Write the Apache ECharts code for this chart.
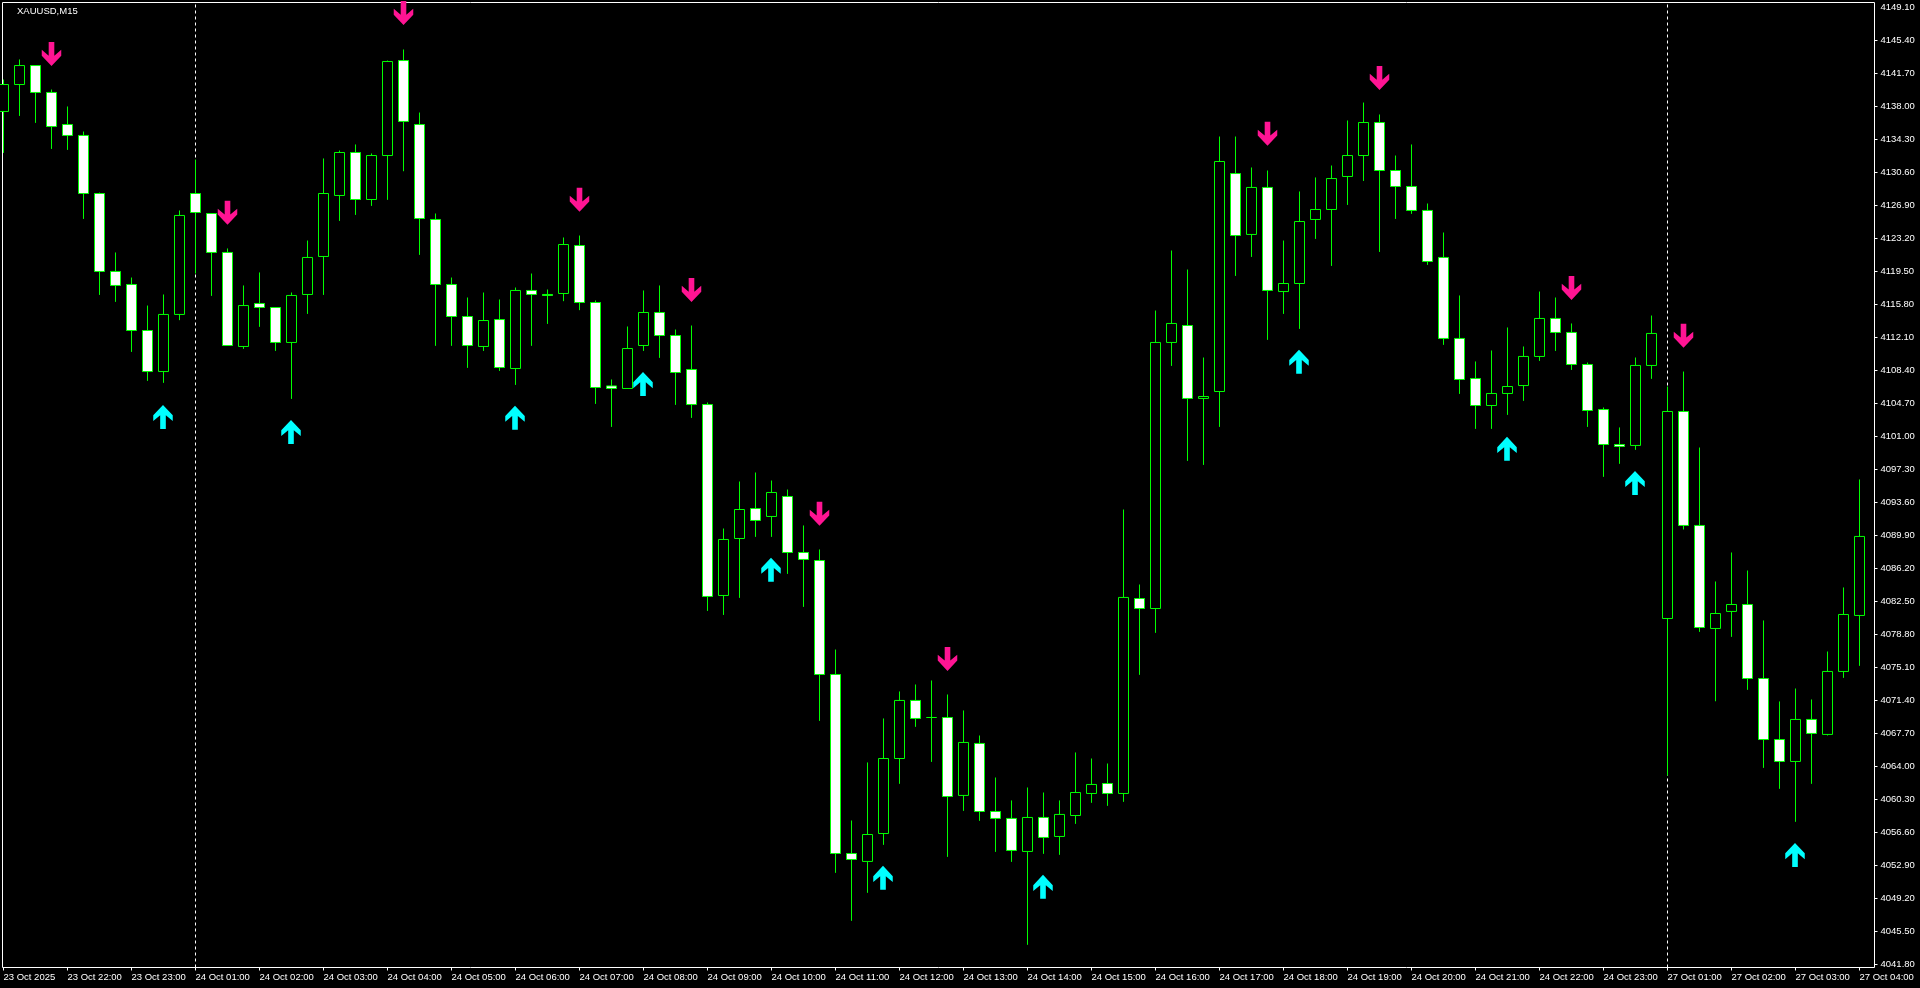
<html>
<head>
  <meta charset="utf-8">
  <title>XAUUSD,M15</title>
  <script src="https://cdn.jsdelivr.net/npm/echarts@6/dist/echarts.min.js"></script>
</head>

<body style="margin:0;background:#000;">
<div id="main" style="width:1920px;height:988px;"></div>
<script>
  var symbolName = 'XAUUSD,M15';

  // M15 bars
  var opens = [4137.41,4140.43,4142.56,4139.54,4135.95,4134.72,4128.21,4119.47,4118.01,4112.85,4108.25,4114.65,4128.21,4125.97,4121.60,4111.06,4115.88,4115.43,4111.51,4116.89,
    4121.15,4127.99,4132.81,4127.54,4132.47,4143.12,4135.95,4125.30,4118.01,4114.42,4111.06,4114.08,4108.59,4117.34,4116.89,4117.00,4122.38,4115.99,4106.64,4106.35,
    4111.17,4114.87,4112.29,4108.48,4104.55,4083.14,4089.53,4092.89,4092.00,4094.24,4087.96,4087.06,4074.28,4054.21,4053.32,4056.45,4064.86,4071.37,4069.46,4069.46,
    4060.72,4066.55,4058.92,4058.14,4054.44,4058.25,4056.12,4058.47,4060.94,4062.06,4060.94,4082.80,4081.68,4111.51,4113.41,4105.23,4106.01,4130.45,4123.62,4128.89,
    4117.22,4118.12,4125.30,4126.42,4130.12,4132.47,4136.17,4130.79,4129.00,4126.31,4121.04,4111.96,4107.47,4104.44,4105.79,4106.68,4109.94,4114.20,4112.63,4109.04,
    4103.99,4100.07,4099.96,4108.93,4080.56,4103.77,4090.99,4079.44,4081.35,4082.13,4073.83,4066.99,4064.53,4069.24,4067.56,4074.62,4080.90];
  var closes = [4140.43,4142.56,4139.54,4135.72,4134.72,4128.21,4119.47,4117.90,4112.85,4108.25,4114.65,4125.75,4126.08,4121.60,4111.17,4115.65,4115.43,4111.51,4116.78,4121.04,
    4128.21,4132.81,4127.54,4132.47,4143.01,4136.29,4125.41,4118.01,4114.42,4111.17,4113.97,4108.70,4117.34,4116.89,4116.78,4122.49,4115.99,4106.46,4106.35,4110.83,
    4114.87,4112.29,4108.14,4104.55,4083.03,4089.42,4092.78,4091.55,4094.69,4087.96,4087.18,4074.28,4054.21,4053.54,4056.34,4064.86,4071.37,4069.35,4069.46,4060.60,
    4066.66,4058.92,4058.14,4054.55,4058.25,4056.01,4058.59,4061.05,4061.95,4060.94,4082.92,4081.68,4111.51,4113.64,4105.23,4105.45,4131.80,4123.50,4128.89,4117.34,
    4118.12,4125.07,4126.42,4129.89,4132.47,4136.17,4130.79,4129.00,4126.31,4120.59,4111.96,4107.36,4104.44,4105.79,4106.57,4109.94,4114.20,4112.63,4109.04,4103.88,
    4100.07,4099.85,4108.93,4112.52,4103.77,4090.99,4079.55,4081.12,4082.13,4073.83,4066.99,4064.53,4069.24,4067.67,4074.62,4081.01,4089.76];
  var lows = [4132.76,4136.91,4136.13,4133.21,4133.10,4125.36,4116.84,4116.06,4110.45,4107.20,4106.98,4114.01,4119.24,4116.73,4111.17,4110.79,4113.26,4110.56,4105.18,4114.71,
    4116.84,4125.14,4125.81,4126.82,4127.50,4130.71,4121.33,4111.13,4111.13,4108.66,4110.56,4108.32,4106.75,4111.13,4113.59,4116.14,4115.13,4104.62,4102.04,4106.35,
    4110.56,4109.78,4104.51,4103.05,4081.41,4080.96,4082.87,4089.71,4089.71,4085.56,4081.86,4069.08,4052.04,4046.66,4049.80,4055.18,4062.02,4068.41,4064.48,4053.83,
    4058.99,4057.87,4054.39,4053.27,4043.97,4054.17,4054.06,4057.53,4059.89,4059.55,4060.00,4074.24,4078.95,4108.88,4098.23,4097.78,4102.04,4118.97,4121.10,4111.80,
    4114.71,4113.03,4123.12,4120.09,4126.93,4129.62,4121.66,4125.36,4125.93,4120.21,4111.24,4105.74,4101.82,4101.82,4103.39,4104.96,4109.44,4110.56,4108.43,4102.04,
    4096.44,4097.90,4099.47,4107.43,4062.95,4090.54,4079.06,4071.28,4078.50,4072.56,4063.81,4061.46,4057.76,4062.02,4067.44,4073.90,4075.25];
  var highs = [4140.99,4143.24,4142.56,4139.87,4137.97,4135.16,4128.32,4121.60,4118.79,4115.65,4116.89,4126.31,4132.02,4125.97,4122.05,4117.90,4119.36,4115.43,4117.11,4122.94,
    4132.14,4133.03,4133.71,4132.70,4143.12,4144.36,4137.29,4125.97,4118.79,4116.55,4117.11,4116.33,4117.67,4119.24,4117.45,4123.28,4123.50,4116.22,4107.36,4113.30,
    4117.34,4117.90,4112.96,4113.41,4104.78,4090.65,4095.92,4096.93,4096.03,4095.02,4090.99,4088.30,4077.08,4057.91,4064.42,4069.35,4072.38,4073.16,4073.61,4072.04,
    4070.25,4067.44,4062.73,4060.16,4061.61,4061.05,4060.16,4065.54,4064.86,4064.30,4092.78,4084.37,4115.09,4121.82,4119.69,4109.82,4134.60,4134.60,4131.13,4130.79,
    4122.94,4128.44,4130.01,4131.35,4136.40,4138.41,4137.07,4132.47,4133.71,4127.09,4123.84,4116.78,4109.38,4110.61,4113.19,4111.06,4117.22,4116.55,4113.64,4109.26,
    4104.22,4101.98,4109.82,4114.53,4106.57,4108.25,4099.73,4084.71,4087.96,4085.94,4080.34,4071.26,4072.71,4071.48,4076.86,4084.04,4096.15];

  // indicator arrows: [bar index, price]
  var sellArrows = [[3,4143.86],[14,4126.04],[25,4148.46],[36,4127.50],[43,4117.40],[51,4092.29],[59,4076.03],[79,4134.90],[86,4141.17],[98,4117.63],[105,4112.25]];
  var buyArrows = [[10,4103.16],[18,4101.48],[32,4103.07],[40,4106.85],[48,4086.03],[55,4051.48],[65,4050.47],[81,4109.35],[94,4099.58],[102,4095.76],[112,4054.04]];

  // period separators (bar index)
  var separators = [12, 104];

  var priceTicks = [4149.10,4145.40,4141.70,4138.00,4134.30,4130.60,4126.90,4123.20,4119.50,4115.80,4112.10,4108.40,4104.70,4101.00,4097.30,
    4093.60,4089.90,4086.20,4082.50,4078.80,4075.10,4071.40,4067.70,4064.00,4060.30,4056.60,4052.90,4049.20,4045.50,4041.80];
  var timeTickBars = [0,4,8,12,16,20,24,28,32,36,40,44,48,52,56,60,64,68,72,76,80,84,88,92,96,100,104,108,112,116];
  var timeLabels = ['23 Oct 2025','23 Oct 22:00','23 Oct 23:00','24 Oct 01:00','24 Oct 02:00','24 Oct 03:00','24 Oct 04:00','24 Oct 05:00','24 Oct 06:00','24 Oct 07:00',
    '24 Oct 08:00','24 Oct 09:00','24 Oct 10:00','24 Oct 11:00','24 Oct 12:00','24 Oct 13:00','24 Oct 14:00','24 Oct 15:00','24 Oct 16:00','24 Oct 17:00',
    '24 Oct 18:00','24 Oct 19:00','24 Oct 20:00','24 Oct 21:00','24 Oct 22:00','24 Oct 23:00','27 Oct 01:00','27 Oct 02:00','27 Oct 03:00','27 Oct 04:00'];

  var upArrow = 'path://M29.5 0L59 30L59 47L38 30L38 70L21 70L21 30L0 47L0 30Z';
  var downArrow = 'path://M21 0L38 0L38 40L59 23L59 40L29.5 70L0 40L0 23L21 40Z';
  var fontName = '"Liberation Sans"';

  var candles = opens.map(function (o, i) {
    return [i, o, closes[i], lows[i], highs[i]];
  });

  var myChart = echarts.init(document.getElementById('main'));

  var option = {
    backgroundColor: '#000',
    animation: false,
    title: {
      text: symbolName,
      left: 12,
      top: 1,
      textStyle: { color: '#fff', fontSize: 9.5, fontWeight: 'normal', fontFamily: fontName }
    },
    grid: {
      show: true,
      left: 2.5,
      top: 2.5,
      width: 1872,
      height: 965,
      backgroundColor: '#000',
      borderColor: '#fff',
      borderWidth: 1
    },
    xAxis: {
      type: 'value',
      min: -0.0625,
      max: 116.9375,
      splitLine: { show: false },
      axisLine: { show: false, onZero: false },
      axisTick: { show: true, length: 3, customValues: timeTickBars, lineStyle: { color: '#fff' } },
      axisLabel: {
        customValues: timeTickBars,
        color: '#fff',
        fontSize: 9.5,
        fontFamily: fontName,
        align: 'left',
        margin: 5,
        formatter: function (value) {
          return timeLabels[timeTickBars.indexOf(value)];
        }
      }
    },
    yAxis: {
      type: 'value',
      position: 'right',
      min: 4041.4275,
      max: 4149.6275,
      splitLine: { show: false },
      axisLine: { show: false, onZero: false },
      axisTick: { show: true, length: 3, customValues: priceTicks.slice(1), lineStyle: { color: '#fff' } },
      axisLabel: {
        customValues: priceTicks,
        color: '#fff',
        fontSize: 9.5,
        fontFamily: fontName,
        margin: 6,
        formatter: function (value) {
          return value.toFixed(2);
        }
      }
    },
    series: [
      {
        type: 'candlestick',
        data: candles,
        encode: { x: 0, y: [1, 2, 3, 4] },
        barWidth: 10,
        z: 3,
        itemStyle: {
          color: '#000',
          color0: '#fff',
          borderColor: '#00ff00',
          borderColor0: '#00ff00',
          borderColorDoji: '#00ff00',
          borderWidth: 1
        },
        markLine: {
          silent: true,
          z: 1,
          symbol: 'none',
          label: { show: false },
          lineStyle: { color: '#fff', width: 1, type: [3, 3] },
          data: separators.map(function (bar) {
            return { xAxis: bar };
          })
        }
      },
      {
        type: 'scatter',
        data: sellArrows,
        symbol: downArrow,
        symbolSize: [19.5, 24],
        z: 4,
        itemStyle: { color: '#ff1493', opacity: 1 }
      },
      {
        type: 'scatter',
        data: buyArrows,
        symbol: upArrow,
        symbolSize: [19.5, 24],
        symbolOffset: [-0.5, 0],
        z: 4,
        itemStyle: { color: '#00ffff', opacity: 1 }
      }
    ]
  };

  myChart.setOption(option);
</script>

</body>
</html>
